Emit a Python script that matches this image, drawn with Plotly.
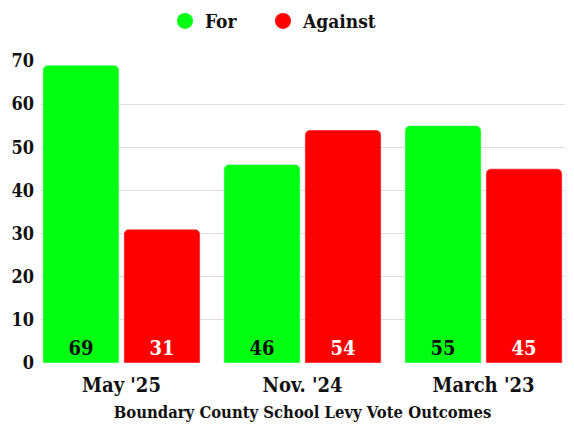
import plotly.graph_objects as go

# levy vote results, percent
dates = ["May '25", "Nov. '24", "March '23"]
votes_for = [69, 46, 55]
votes_against = [31, 54, 45]
y_ticks = [0, 10, 20, 30, 40, 50, 60, 70]

green = "#00ff11"
red = "#ff0000"
serif = "DejaVu Serif Condensed"

fig = go.Figure()

fig.add_trace(go.Bar(x=dates, y=votes_for, name="For",
                     marker_color=green, text=votes_for,
                     textposition="inside", insidetextanchor="start", textangle=0,
                     textfont=dict(family=serif, size=20, color="#111111", weight="bold"),
                     showlegend=False, hoverinfo="x+y"))
fig.add_trace(go.Bar(x=dates, y=votes_against, name="Against",
                     marker_color=red, text=votes_against,
                     textposition="inside", insidetextanchor="start", textangle=0,
                     textfont=dict(family=serif, size=20, color="white", weight="bold"),
                     showlegend=False, hoverinfo="x+y"))

# round legend markers, one legend each so the gap can be set
for name, col, leg in [("For", green, "legend"), ("Against", red, "legend2")]:
    fig.add_trace(go.Scatter(x=[None], y=[None], mode="markers", name=name, legend=leg,
                             marker=dict(size=20, color=col, symbol="circle")))

leg_style = dict(orientation="h", xref="container", yref="container", y=0.969,
                 yanchor="middle", xanchor="left",
                 font=dict(size=19, family=serif, weight="bold"))

# page body adds an 8px offset, so the figure is sized to the visible part
fig.update_layout(
    width=566, height=423,
    margin=dict(l=32, r=9, t=53, b=68),
    paper_bgcolor="white", plot_bgcolor="white",
    font=dict(family=serif, color="#111111", weight="bold"),
    barmode="group", bargap=0.105, bargroupgap=0.06,
    barcornerradius=5,
    legend=dict(x=0.2774, **leg_style),
    legend2=dict(x=0.4505, **leg_style),
)

fig.update_xaxes(range=[-0.45, 2.45], showgrid=False, showline=False, ticks="",
                 automargin=False, ticklabelstandoff=8,
                 tickfont=dict(size=20, family=serif, weight="bold"),
                 title=dict(text="Boundary County School Levy Vote Outcomes",
                            font=dict(size=16.5, family=serif, weight="bold"), standoff=10))
fig.update_yaxes(range=[0, 70], tickvals=y_ticks, showgrid=True, gridcolor="#dddddd",
                 zeroline=False, showline=False, ticks="", ticklabelstandoff=5,
                 automargin=False,
                 tickfont=dict(size=18, family=serif, weight="bold"))

fig.write_html("out.html")
